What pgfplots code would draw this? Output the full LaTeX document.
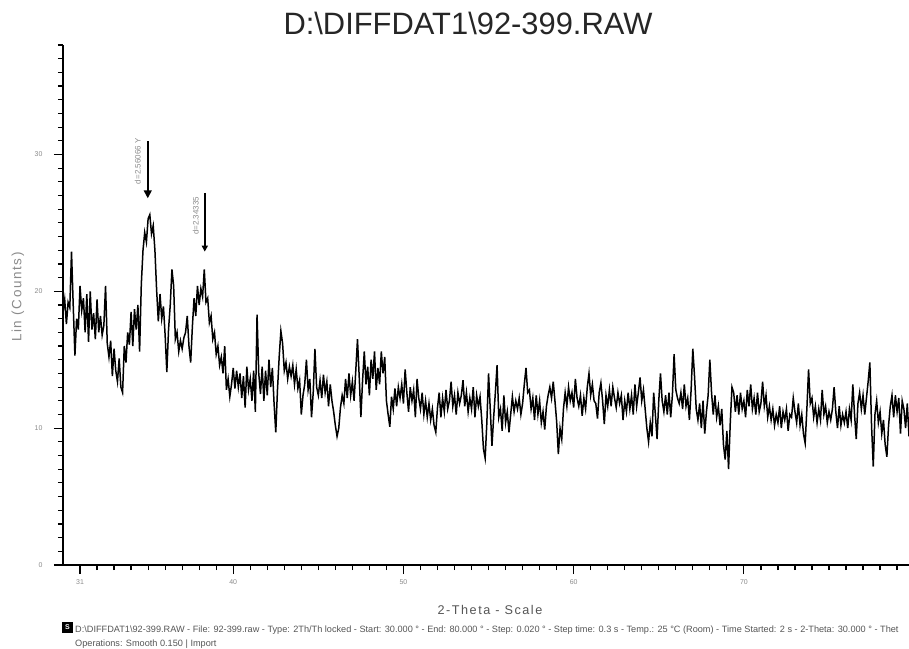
\documentclass[border=0pt]{standalone}
\usepackage{pgfplots}
\pgfplotsset{compat=1.18}
\usepackage{fontspec}
\setmainfont{Liberation Sans}
\newfontfamily\spaced[LetterSpace=12]{Liberation Sans}
\usetikzlibrary{arrows.meta}
\definecolor{lblgray}{HTML}{8A8A8A}
\definecolor{ftgray}{HTML}{555555}
\begin{document}
\begin{tikzpicture}
\begin{axis}[
 at={(0,0)}, anchor=south west,
 scale only axis, width=846bp, height=520bp,
 xmin=30, xmax=79.7, ymin=0, ymax=38,
 axis x line*=bottom, axis y line*=left,
 every outer x axis line/.append style={-},
 every outer y axis line/.append style={-},
 axis line style={line width=1.4bp, -},
 xtick={31,40,50,60,70}, minor xtick={31,...,79},
 ytick={0,10,20,30}, minor ytick={1,...,38},
 tick align=outside,
 major tick length=9bp, minor tick length=5bp,
 tick style={black, line width=1.2bp},
 ticklabel style={font=\fontsize{7}{8}\selectfont, text=lblgray},
 xticklabel style={yshift=-2bp},
 yticklabel style={xshift=-8bp},
 /pgf/number format/assume math mode=true,
]
\addplot[black, line width=1.5bp, mark=none] coordinates {
(30.0,18.5)(30.1,19.4)(30.2,17.6)(30.3,19.2)(30.4,18.8)(30.5,22.9)(30.6,19.0)(30.7,15.3)(30.8,18.0)(30.9,17.2)
(31.0,20.4)(31.1,18.6)(31.2,19.5)(31.3,17.0)(31.4,19.8)(31.5,16.3)(31.6,20.0)(31.7,17.2)(31.8,18.4)(31.9,16.5)
(32.0,19.4)(32.1,17.0)(32.2,18.2)(32.3,16.8)(32.4,17.5)(32.5,20.4)(32.6,16.2)(32.7,15.2)(32.8,16.4)(32.9,13.8)
(33.0,15.8)(33.1,14.2)(33.2,13.4)(33.3,15.1)(33.4,13.0)(33.5,12.6)(33.6,16.0)(33.7,14.8)(33.8,17.0)(33.9,16.1)
(34.0,18.5)(34.1,16.0)(34.2,18.7)(34.3,17.2)(34.4,19.0)(34.5,15.6)(34.6,20.5)(34.7,23.0)(34.8,24.3)(34.9,23.6)
(35.0,25.3)(35.1,25.6)(35.2,24.2)(35.3,24.8)(35.4,23.0)(35.5,20.1)(35.6,17.8)(35.7,19.8)(35.8,18.0)(35.9,18.9)
(36.0,16.8)(36.1,14.1)(36.2,17.2)(36.3,19.0)(36.4,21.6)(36.5,20.4)(36.6,16.5)(36.7,17.0)(36.8,15.6)(36.9,16.4)
(37.0,15.8)(37.1,16.6)(37.2,17.0)(37.3,18.2)(37.4,16.0)(37.5,14.8)(37.6,17.4)(37.7,19.5)(37.8,18.2)(37.9,20.4)
(38.0,19.0)(38.1,20.2)(38.2,19.6)(38.3,21.6)(38.4,19.2)(38.5,19.5)(38.6,17.7)(38.7,18.2)(38.8,16.5)(38.9,17.0)
(39.0,15.4)(39.1,16.0)(39.2,14.6)(39.3,15.2)(39.4,14.0)(39.5,16.0)(39.6,12.8)(39.7,13.6)(39.8,12.3)(39.9,13.2)
(40.0,14.4)(40.1,12.9)(40.2,14.2)(40.3,13.0)(40.4,14.0)(40.5,12.2)(40.6,13.8)(40.7,11.5)(40.8,14.5)(40.9,12.8)
(41.0,13.6)(41.1,12.0)(41.2,14.2)(41.3,11.2)(41.4,18.3)(41.5,14.0)(41.6,12.5)(41.7,14.5)(41.8,12.0)(41.9,14.2)
(42.0,12.4)(42.1,15.0)(42.2,13.0)(42.3,14.4)(42.4,11.8)(42.5,9.7)(42.6,12.8)(42.7,15.2)(42.8,17.1)(42.9,16.2)
(43.0,14.2)(43.1,14.8)(43.2,13.6)(43.3,14.5)(43.4,13.8)(43.5,14.6)(43.6,13.2)(43.7,14.3)(43.8,12.9)(43.9,13.5)
(44.0,11.0)(44.1,12.4)(44.2,13.2)(44.3,15.0)(44.4,12.8)(44.5,13.6)(44.6,10.8)(44.7,12.6)(44.8,15.8)(44.9,13.0)
(45.0,12.4)(45.1,13.5)(45.2,12.2)(45.3,13.9)(45.4,12.6)(45.5,13.4)(45.6,11.6)(45.7,13.2)(45.8,12.0)(45.9,11.2)
(46.0,10.2)(46.1,9.4)(46.2,10.0)(46.3,11.5)(46.4,12.4)(46.5,11.8)(46.6,13.6)(46.7,12.2)(46.8,14.0)(46.9,12.4)
(47.0,13.4)(47.1,12.0)(47.2,14.2)(47.3,16.5)(47.4,13.8)(47.5,10.8)(47.6,13.5)(47.7,15.6)(47.8,13.2)(47.9,14.5)
(48.0,12.4)(48.1,15.0)(48.2,13.6)(48.3,15.6)(48.4,12.8)(48.5,14.4)(48.6,13.2)(48.7,15.6)(48.8,14.0)(48.9,15.2)
(49.0,12.0)(49.1,11.0)(49.2,10.1)(49.3,12.3)(49.4,11.4)(49.5,12.9)(49.6,11.6)(49.7,13.0)(49.8,12.2)(49.9,13.2)
(50.0,11.8)(50.1,14.3)(50.2,12.6)(50.3,11.2)(50.4,13.0)(50.5,12.0)(50.6,12.8)(50.7,10.8)(50.8,13.6)(50.9,12.2)
(51.0,11.4)(51.1,12.6)(51.2,11.0)(51.3,12.0)(51.4,10.8)(51.5,11.8)(51.6,10.6)(51.7,11.4)(51.8,10.2)(51.9,9.7)
(52.0,11.5)(52.1,12.6)(52.2,10.8)(52.3,12.2)(52.4,11.2)(52.5,12.8)(52.6,11.4)(52.7,12.0)(52.8,13.4)(52.9,11.6)
(53.0,12.4)(53.1,11.0)(53.2,12.6)(53.3,11.8)(53.4,12.4)(53.5,13.5)(53.6,11.6)(53.7,12.6)(53.8,11.2)(53.9,12.2)
(54.0,11.4)(54.1,13.0)(54.2,10.8)(54.3,12.4)(54.4,11.6)(54.5,12.3)(54.6,10.6)(54.7,8.5)(54.8,7.8)(54.9,10.4)
(55.0,14.0)(55.1,11.4)(55.2,8.7)(55.3,10.8)(55.4,12.6)(55.5,14.6)(55.6,10.8)(55.7,11.4)(55.8,9.8)(55.9,12.4)
(56.0,10.4)(56.1,11.2)(56.2,9.7)(56.3,11.0)(56.4,12.3)(56.5,11.2)(56.6,12.0)(56.7,11.4)(56.8,12.2)(56.9,11.0)
(57.0,11.8)(57.1,13.2)(57.2,14.4)(57.3,12.6)(57.4,12.8)(57.5,11.4)(57.6,12.2)(57.7,10.6)(57.8,12.4)(57.9,11.0)
(58.0,12.0)(58.1,10.4)(58.2,11.2)(58.3,9.9)(58.4,11.6)(58.5,12.4)(58.6,13.0)(58.7,12.2)(58.8,13.4)(58.9,12.0)
(59.0,10.5)(59.1,8.1)(59.2,10.0)(59.3,9.2)(59.4,11.4)(59.5,12.6)(59.6,11.6)(59.7,13.0)(59.8,12.0)(59.9,12.6)
(60.0,11.5)(60.1,13.6)(60.2,12.2)(60.3,11.6)(60.4,12.4)(60.5,10.9)(60.6,12.2)(60.7,11.4)(60.8,13.0)(60.9,14.0)
(61.0,12.4)(61.1,13.2)(61.2,12.0)(61.3,11.8)(61.4,10.7)(61.5,12.6)(61.6,13.3)(61.7,12.0)(61.8,10.3)(61.9,12.4)
(62.0,11.6)(62.1,12.8)(62.2,11.6)(62.3,13.0)(62.4,12.2)(62.5,11.5)(62.6,12.6)(62.7,11.8)(62.8,12.4)(62.9,10.6)
(63.0,12.0)(63.1,11.2)(63.2,12.6)(63.3,11.4)(63.4,12.4)(63.5,11.0)(63.6,13.2)(63.7,11.6)(63.8,12.6)(63.9,13.7)
(64.0,12.0)(64.1,12.8)(64.2,11.4)(64.3,10.0)(64.4,9.0)(64.5,10.4)(64.6,9.4)(64.7,12.6)(64.8,11.0)(64.9,9.2)
(65.0,12.0)(65.1,14.0)(65.2,12.0)(65.3,11.2)(65.4,12.4)(65.5,11.0)(65.6,12.6)(65.7,10.8)(65.8,12.4)(65.9,15.4)
(66.0,12.8)(66.1,12.2)(66.2,11.8)(66.3,12.6)(66.4,11.4)(66.5,13.2)(66.6,11.6)(66.7,12.2)(66.8,10.6)(66.9,12.8)
(67.0,15.8)(67.1,13.8)(67.2,11.4)(67.3,10.6)(67.4,11.8)(67.5,10.0)(67.6,12.0)(67.7,9.6)(67.8,11.2)(67.9,12.4)
(68.0,15.0)(68.1,12.6)(68.2,11.0)(68.3,12.4)(68.4,10.8)(68.5,11.6)(68.6,10.2)(68.7,11.4)(68.8,8.8)(68.9,7.7)
(69.0,9.8)(69.1,7.0)(69.2,10.4)(69.3,13.0)(69.4,12.6)(69.5,11.2)(69.6,12.4)(69.7,11.0)(69.8,12.6)(69.9,11.4)
(70.0,12.0)(70.1,10.8)(70.2,12.8)(70.3,11.6)(70.4,13.2)(70.5,11.4)(70.6,12.2)(70.7,11.0)(70.8,12.6)(70.9,11.2)
(71.0,11.8)(71.1,13.4)(71.2,11.6)(71.3,12.4)(71.4,10.8)(71.5,11.6)(71.6,10.6)(71.7,11.4)(71.8,10.2)(71.9,11.0)
(72.0,10.4)(72.1,11.6)(72.2,10.0)(72.3,11.2)(72.4,10.6)(72.5,11.4)(72.6,9.8)(72.7,11.0)(72.8,10.8)(72.9,12.2)
(73.0,11.2)(73.1,10.4)(73.2,11.8)(73.3,10.2)(73.4,11.0)(73.5,9.6)(73.6,8.9)(73.7,11.4)(73.8,14.3)(73.9,11.8)
(74.0,12.2)(74.1,10.8)(74.2,11.6)(74.3,10.4)(74.4,11.4)(74.5,10.6)(74.6,12.8)(74.7,11.0)(74.8,11.6)(74.9,10.4)
(75.0,11.2)(75.1,10.6)(75.2,11.4)(75.3,13.0)(75.4,11.2)(75.5,10.0)(75.6,11.6)(75.7,10.2)(75.8,11.0)(75.9,10.4)
(76.0,11.2)(76.1,10.0)(76.2,11.4)(76.3,10.6)(76.4,13.2)(76.5,11.0)(76.6,9.2)(76.7,11.8)(76.8,12.6)(76.9,11.4)
(77.0,12.4)(77.1,11.0)(77.2,12.2)(77.3,13.4)(77.4,14.8)(77.5,10.2)(77.6,7.2)(77.7,11.0)(77.8,12.0)(77.9,10.4)
(78.0,11.2)(78.1,9.6)(78.2,10.6)(78.3,8.8)(78.4,7.9)(78.5,10.2)(78.6,11.6)(78.7,12.4)(78.8,10.8)(78.9,12.4)
(79.0,11.2)(79.1,12.2)(79.2,9.6)(79.3,12.0)(79.4,11.4)(79.5,10.0)(79.6,11.8)(79.7,9.4)
};
\draw[line width=1.5bp, -{Triangle[length=8bp,width=8bp]}] (axis cs:34.98,30.95) -- (axis cs:34.98,26.8);
\draw[line width=1.5bp, -{Triangle[length=6bp,width=6bp]}] (axis cs:38.33,27.2) -- (axis cs:38.33,22.9);
\node[rotate=90, font=\fontsize{8}{9}\selectfont, text=lblgray, inner sep=0pt] at (axis cs:34.39,29.5) {d=2.56066 Y};
\node[rotate=90, font=\fontsize{8}{9}\selectfont, text=lblgray, inner sep=0pt] at (axis cs:37.80,25.5) {d=2.34335};
\end{axis}
\node[font=\fontsize{31}{34}\selectfont, text=black!85, inner sep=0pt] at (405bp,542bp) {D:\textbackslash DIFFDAT1\textbackslash 92-399.RAW};
\node[rotate=90, font=\spaced\fontsize{13.5}{15}\selectfont, text=lblgray, inner sep=0pt] at (-45bp,268bp) {Lin (Counts)};
\node[font=\spaced\fontsize{12.7}{14}\selectfont, text=ftgray, inner sep=0pt] at (427bp,-45bp) {2-Theta - Scale};
\fill[black] (-1bp,-57bp) rectangle (10bp,-68bp);
\node[font=\fontsize{7}{8}\selectfont\bfseries, text=white, inner sep=0pt] at (4.5bp,-62.5bp) {S};
\node[anchor=base west, font=\fontsize{9.2}{10}\selectfont, text=ftgray, inner sep=0pt] at (12bp,-67bp) {D:\textbackslash DIFFDAT1\textbackslash 92-399.RAW - File: 92-399.raw - Type: 2Th/Th locked - Start: 30.000 ° - End: 80.000 ° - Step: 0.020 ° - Step time: 0.3 s - Temp.: 25 °C (Room) - Time Started: 2 s - 2-Theta: 30.000 ° - Thet};
\node[anchor=base west, font=\fontsize{9.2}{10}\selectfont, text=ftgray, inner sep=0pt] at (12bp,-81bp) {Operations: Smooth 0.150 | Import};
\pgfresetboundingbox
\path[use as bounding box] (-63bp,-84bp) rectangle (846bp,565bp);
\end{tikzpicture}
\end{document}
